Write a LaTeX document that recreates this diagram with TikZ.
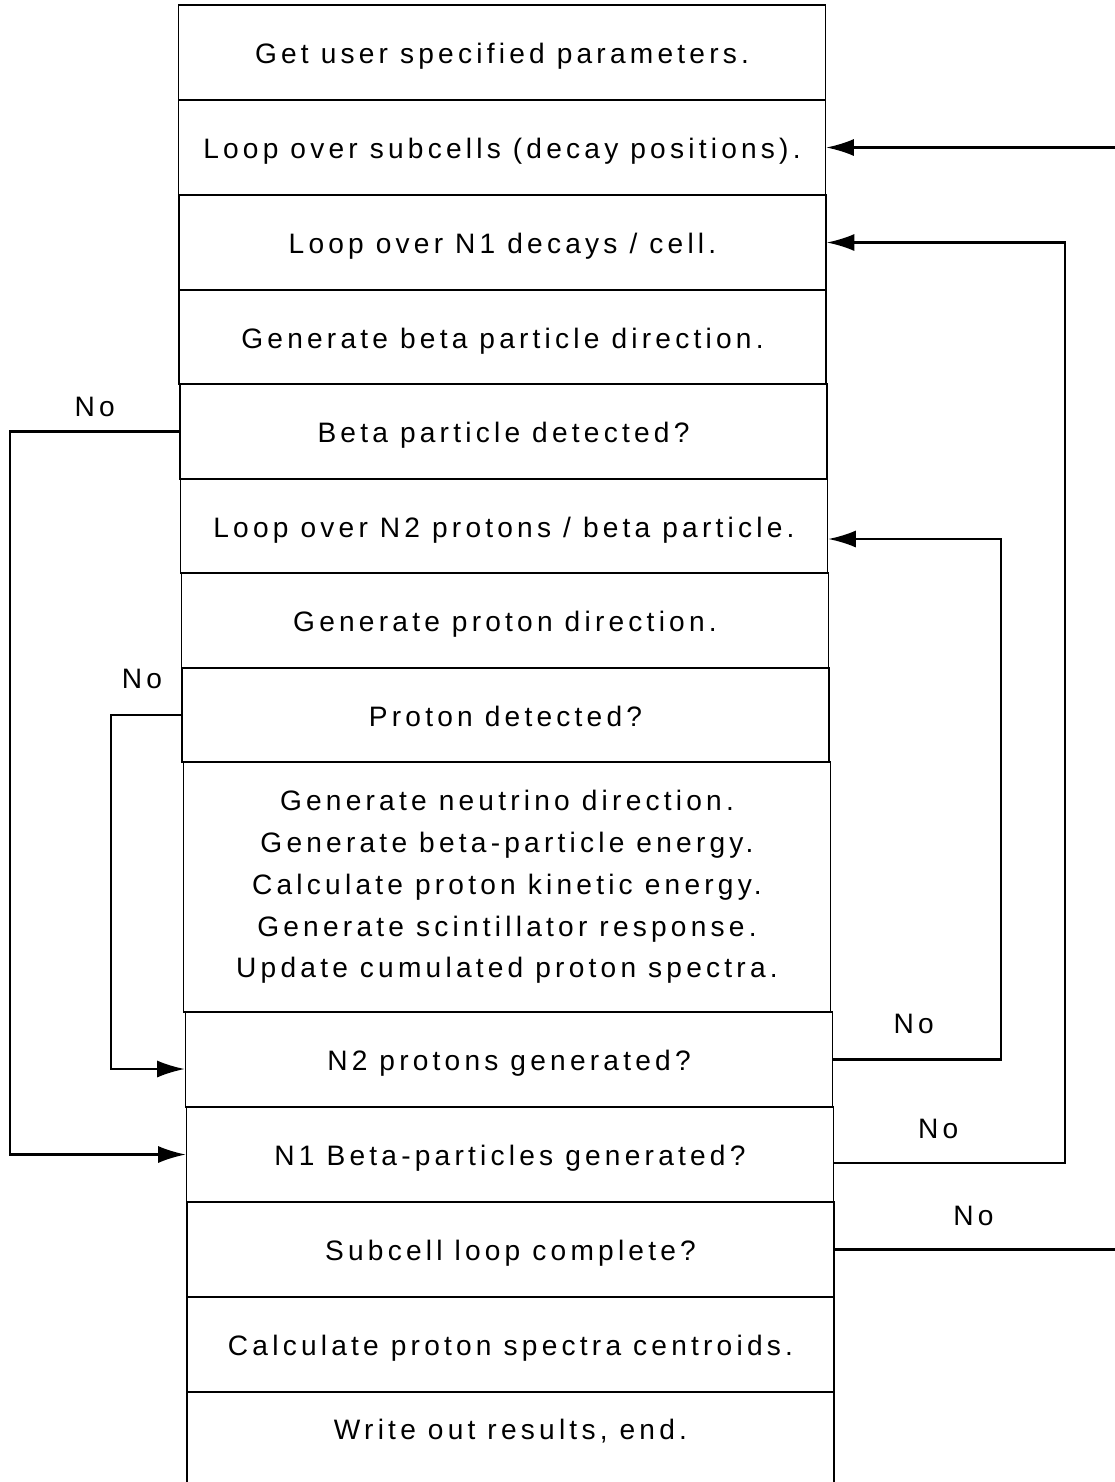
\documentclass[tikz,border=0pt]{standalone}
\usepackage{fontspec}
\setmainfont{Liberation Sans}[LetterSpace=15]
\usetikzlibrary{arrows.meta}

\begin{document}
\begin{tikzpicture}[x=0.02cm, y=-0.02cm,
  stepbox/.style={rectangle, draw, line width=1pt, minimum width=12.94cm, minimum height=1.9cm, text centered, font=\fontsize{16}{16.8}\selectfont, inner sep=0pt, text height=13pt, text depth=0pt},
  arrow/.style={-{Latex[length=0.55cm, width=0.34cm]}, line width=1.2pt},
  nolabel/.style={above=#1, font=\fontsize{16}{16}\selectfont, inner sep=0pt},
  nolabel/.default=0.46cm
]
\useasboundingbox (0,0) rectangle (1115,1482);

\node[stepbox] (n1) at (502,52.5) {Get user specified parameters.};
\node[stepbox] (n2) at (502,147.5) {Loop over subcells (decay positions).};
\node[stepbox] (n3) at (502.5,242.5) {Loop over N1 decays / cell.};
\node[stepbox] (n4) at (502.5,337) {Generate beta particle direction.};
\node[stepbox] (n5) at (503.5,431.5) {Beta particle detected?};
\node[stepbox] (n6) at (504,526) {Loop over N2 protons / beta particle.};
\node[stepbox] (n7) at (505,620.5) {Generate proton direction.};
\node[stepbox] (n8) at (505.5,715) {Proton detected?};
\node[stepbox, minimum height=5cm, align=center, text height=, text depth=, font=\fontsize{16}{23.8}\selectfont] (n9) at (507,887)
  {Generate neutrino direction.\\Generate beta-particle energy.\\Calculate proton kinetic energy.\\Generate scintillator response.\\Update cumulated proton spectra.};
\node[stepbox] (n10) at (509,1059.5) {N2 protons generated?};
\node[stepbox] (n11) at (510,1154.5) {N1 Beta-particles generated?};
\node[stepbox] (n12) at (510.5,1249.5) {Subcell loop complete?};
\node[stepbox] (n13) at (510.5,1344.5) {Calculate proton spectra centroids.};
\node[stepbox, minimum height=2.1cm, text depth=18pt] (n14) at (510.5,1444) {Write out results, end.};

% loops back on the right
\coordinate (xa) at (1001,0);
\coordinate (xb) at (1065,0);
\coordinate (xc) at (1130,0);
\draw[arrow] (n10.east) -- node[nolabel=0.5cm, pos=0.48] {No} (n10.east -| xa) |- ([yshift=-0.26cm]n6.east);
\draw[arrow] ([yshift=-0.17cm]n11.east) -- node[nolabel, pos=0.45] {No} ([yshift=-0.17cm]n11.east -| xb) |- (n3.east);
\draw[arrow] (n12.east) -- node[nolabel, pos=0.47] {No} (n12.east -| xc) |- (n2.east);

% skips on the left
\coordinate (xd) at (10,0);
\coordinate (xe) at (111,0);
\draw[arrow] (n5.west) -- node[nolabel=0.28cm] {No} (n5.west -| xd) |- (n11.west);
\draw[arrow] (n8.west) -- node[nolabel=0.5cm, pos=0.56] {No} (n8.west -| xe) |- ([yshift=-0.19cm]n10.west);
\end{tikzpicture}
\end{document}
